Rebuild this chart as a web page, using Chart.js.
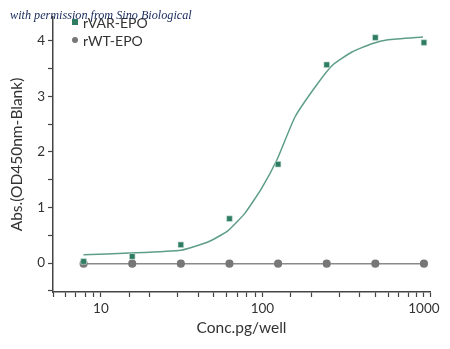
<!DOCTYPE html>
<html>
<head>
<meta charset="utf-8">
<script src="https://cdn.jsdelivr.net/npm/chart.js@4"></script>
<style>
  body { margin: 0; background: #fff; }
  #wrap { position: relative; width: 450px; height: 349px; }
  #watermark {
    position: absolute; left: 10px; top: 8px;
    font: italic 12.2px "Liberation Serif", serif;
    color: #17285a; white-space: nowrap;
  }
  #legend { position: absolute; left: 72px; top: 13px; font: 14px Lato, sans-serif; color: #333; }
  #legend div { height: 18px; display: flex; align-items: center; }
  .sq { width: 6px; height: 6px; background: #2e7d62; margin-right: 5px; }
  .dot { width: 6px; height: 6px; border-radius: 50%; background: #777; margin-right: 5px; }
</style>
</head>
<body>
<div id="wrap">
  <canvas id="chart" width="450" height="349"></canvas>
  <div id="legend">
    <div><span class="sq"></span>rVAR-EPO</div>
    <div><span class="dot"></span>rWT-EPO</div>
  </div>
  <div id="watermark">with permission from Sino Biological</div>
</div>
<script>
const conc = [7.8125, 15.625, 31.25, 62.5, 125, 250, 500, 1000];
const varAbs = [0.03, 0.12, 0.33, 0.80, 1.78, 3.57, 4.06, 3.97];
const wtAbs = [-0.01, -0.01, -0.01, -0.01, -0.01, -0.01, -0.01, -0.01];

// fitted curve
const fitConc = [7.8, 15.1, 31.3, 46, 61, 78, 99, 123, 159, 217, 273, 358, 476, 599, 986];
const fitAbs = [0.15, 0.18, 0.23, 0.38, 0.58, 0.90, 1.35, 1.86, 2.63, 3.21, 3.57, 3.80, 3.95, 4.02, 4.07];

const xLabels = [10, 100, 1000];
const yLabels = [0, 1, 2, 3, 4];

const pts = (xs, ys) => xs.map((x, i) => ({ x: x, y: ys[i] }));

window.addEventListener("DOMContentLoaded", () => {
  const ctx = document.getElementById("chart").getContext("2d");
  const tickFont = { family: "Lato", size: 13.5 };

  new Chart(ctx, {
    type: "scatter",
    data: {
      datasets: [
        {
          label: "fit",
          data: pts(fitConc, fitAbs),
          showLine: true,
          borderColor: "#5e9e88",
          borderWidth: 1.5,
          pointRadius: 0,
          tension: 0.15,
          order: 2
        },
        {
          label: "rVAR-EPO",
          data: pts(conc, varAbs),
          pointStyle: "rect",
          pointRadius: 4,
          backgroundColor: "#2e7d62",
          borderColor: "#cfe3db",
          borderWidth: 0.6,
          order: 1
        },
        {
          label: "rWT-EPO",
          data: pts(conc, wtAbs),
          showLine: true,
          borderColor: "#8a8a8a",
          borderWidth: 1.5,
          pointRadius: 3.3,
          backgroundColor: "#777",
          pointBorderColor: "#777",
          order: 3
        }
      ]
    },
    options: {
      responsive: false,
      animation: false,
      layout: { padding: { top: 17, right: 20, left: 4, bottom: 0 } },
      plugins: { legend: { display: false }, tooltip: { enabled: false } },
      scales: {
        x: {
          type: "logarithmic",
          min: 5.05,
          max: 1090,
          afterFit: s => { s.height = 57; },
          border: { color: "#444", width: 1.5 },
          grid: { drawOnChartArea: false, tickLength: 5, color: "#444", tickWidth: 1.2 },
          ticks: {
            autoSkip: false,
            maxRotation: 0,
            color: "#333",
            font: tickFont,
            padding: 4,
            callback: v => xLabels.includes(v) ? String(v) : ""
          },
          title: {
            display: true,
            text: "Conc.pg/well",
            color: "#333",
            font: { family: "Lato", size: 15.5 },
            padding: { top: 4, bottom: 12 }
          }
        },
        y: {
          min: -0.52,
          max: 4.43,
          afterFit: s => { s.width = 49; },
          afterBuildTicks: s => {
            const t = [];
            for (let v = -0.5; v <= 4.01; v += 0.5) t.push({ value: Math.round(v * 10) / 10 });
            s.ticks = t;
          },
          border: { color: "#444", width: 1.5 },
          grid: { drawOnChartArea: false, tickLength: 5, color: "#444", tickWidth: 1.2 },
          ticks: {
            color: "#333",
            font: tickFont,
            padding: 3,
            callback: v => yLabels.includes(v) ? String(v) : ""
          },
          title: {
            display: true,
            text: "Abs.(OD450nm-Blank)",
            color: "#333",
            font: { family: "Lato", size: 15.5 },
            padding: { bottom: 0 }
          }
        }
      }
    }
  });
});
</script>
</body>
</html>
